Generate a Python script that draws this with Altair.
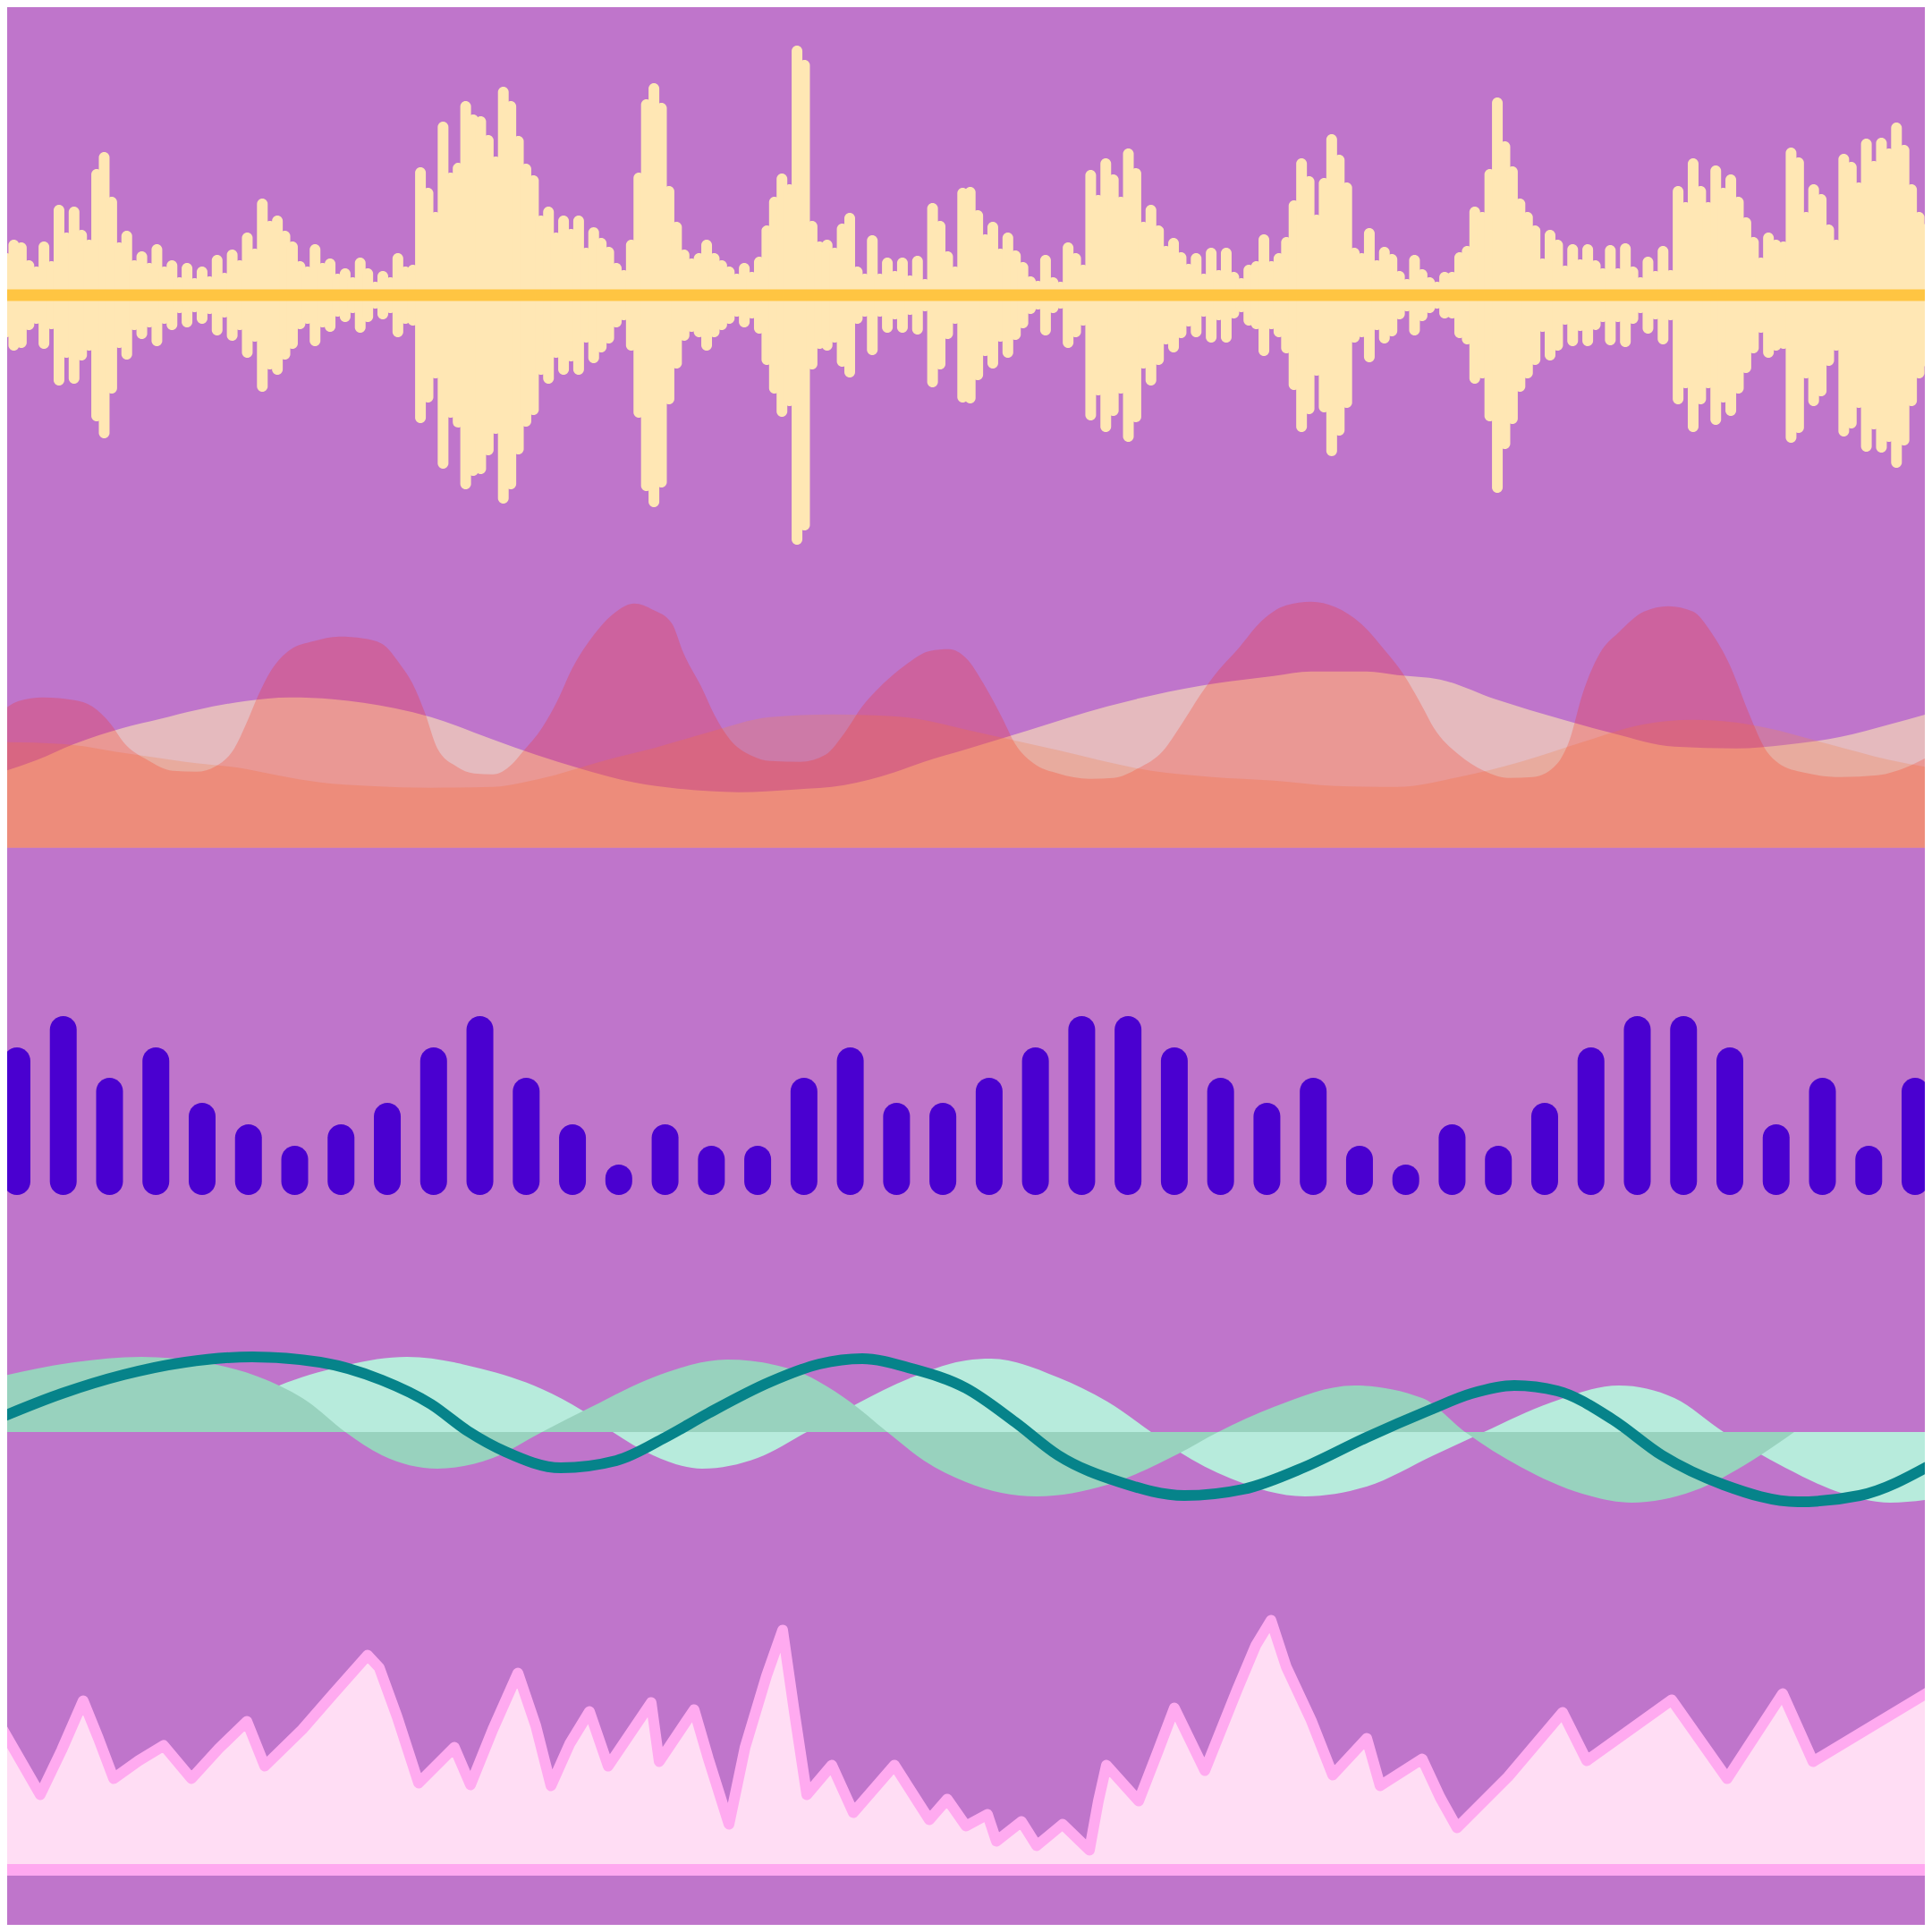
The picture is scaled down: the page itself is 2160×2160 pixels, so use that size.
import altair as alt
import pandas as pd

BG = "#BF75CB"

# ---------------- Panel 1: mirrored waveform (half amplitudes, px) ----------------
WAVE_AMP = [
    47, 62, 59, 39, 32, 60, 38, 101, 70, 99, 73, 62, 141, 160, 110, 59, 72, 39, 49,
    36, 57, 32, 39, 20, 36, 19, 32, 21, 45, 25, 51, 39, 70, 52, 108, 83, 89,
    72, 60, 38, 32, 57, 36, 41, 24, 30, 20, 42, 30, 15, 27, 20, 47, 32, 34, 143,
    120, 93, 194, 137, 148, 217, 202,
    200, 179, 155, 233, 217, 178, 147, 134, 89, 99, 70, 89, 74, 89, 53, 76, 64, 54, 36, 28,
    62, 137, 219, 237, 215, 122, 82, 51, 41, 47, 62, 47, 39, 32, 24, 36, 26, 43, 78, 110,
    136, 124, 279, 263, 83, 60, 62, 53, 80, 92, 32, 24, 67, 24, 42, 27, 42, 22, 44, 18,
    103, 83, 49, 32, 120,
    121, 95, 68, 82, 52, 70, 50, 37, 21, 16, 45, 20, 15, 59, 47, 34, 140, 112, 153, 135,
    110, 164, 142, 82, 101, 78, 55, 64, 48, 35, 47, 24, 53, 28, 53, 26, 19, 34, 38, 68,
    38, 47, 65, 106, 153, 133, 90, 131, 180, 157, 126, 53, 47, 75, 39, 54, 46, 27, 18, 45,
    29, 20, 15, 26,
    26, 48, 55, 99, 93, 141, 221, 172, 144, 108, 93, 78, 41, 73, 62, 33, 57, 40, 57, 39,
    30, 56, 30, 58, 32, 20, 43, 27, 55, 28, 122, 104, 153, 122, 104, 145, 120, 135, 110, 87,
    65, 42, 70, 62, 60, 165, 154, 93, 124, 113, 79, 62, 158, 149, 126, 175, 150, 176, 164, 193,
    168, 124, 93, 80,
]

# ---------------- Panel 2: ridge areas (x, height) ----------------
PEAK_X = [0, 21, 48, 83, 103, 124, 138, 165, 193, 220, 241, 262, 275, 289, 303, 324, 351, 379, 406, 427,
          448, 461, 475, 489, 510, 530, 551, 572, 585, 606, 623, 640, 661, 689, 709, 730, 751, 764, 785, 799,
          816, 840, 861, 895, 923, 944, 964, 985, 1012, 1040, 1061, 1080,
          1101, 1121, 1135, 1156, 1183, 1218, 1245, 1273, 1300, 1321, 1342, 1362, 1383, 1411, 1438, 1466, 1493,
          1521, 1548, 1569, 1590, 1603, 1631, 1659, 1686, 1714, 1741, 1755, 1769, 1789, 1810, 1838, 1865, 1893,
          1913, 1934, 1955, 1975, 1989, 2017, 2058, 2099, 2134, 2160]
PEAK_H = [151, 164, 168, 165, 158, 138, 118, 98, 86, 85, 91, 111, 138, 171, 198, 221, 231, 236, 234, 228,
          204, 184, 151, 111, 91, 83, 82, 93, 108, 134, 164, 201, 234, 264, 273, 266, 251, 218, 178, 148,
          121, 103, 97, 96, 104, 128, 158, 181, 204, 220, 222, 212,
          181, 144, 116, 94, 83, 77, 78, 89, 108, 138, 171, 198, 221, 254, 271, 275, 269,
          251, 221, 194, 158, 134, 104, 86, 78, 79, 94, 121, 171, 218, 241, 264, 270, 264,
          241, 204, 151, 108, 94, 84, 79, 81, 91, 104]

GLOW_X = [0, 41, 83, 138, 179, 220, 275, 324, 372, 441, 482, 551, 599, 647, 709, 758, 826, 888, 944, 999,
          1033, 1080, 1149, 1238, 1342, 1424, 1466, 1528, 1562, 1610, 1672, 1748, 1803, 1872, 1941, 1996,
          2058, 2113, 2160]
GLOW_H = [84, 98, 116, 134, 144, 154, 164, 168, 166, 156, 146, 121, 104, 89, 73, 66, 62, 65, 70, 84,
          96, 110, 131, 158, 181, 192, 197, 197, 193, 188, 166, 143, 128, 113, 111, 115,
          124, 138, 151]

FRONT_X = [0, 69, 138, 207, 275, 310, 358, 413, 482, 551, 585, 620, 647, 689, 730, 792, 861, 930, 978, 1026,
           1080, 1183, 1287, 1355, 1424, 1493, 1562, 1631, 1700, 1769, 1838, 1893, 1941, 1975, 2044, 2113, 2160]
FRONT_H = [118, 116, 106, 96, 88, 81, 73, 69, 67, 68, 73, 81, 89, 101, 111, 129, 146, 149, 148, 144,
           132, 109, 86, 79, 75, 69, 68, 79, 96, 118, 138, 143, 140, 134, 116, 98, 89]

# ---------------- Panel 3: rounded level bars ----------------
BAR_H = [165, 200, 131, 165, 103, 79, 55, 79, 103, 165, 200, 131, 79, 34, 79, 55, 55, 131, 165, 103,
         103, 131, 165, 200, 200, 165, 131, 103, 131, 55, 34, 79, 55, 103, 165, 200, 200, 165, 79, 131,
         55, 131]

# ---------------- Panel 4: waves ----------------
WAVE_A_X = [0, 83, 158, 227, 296, 344, 386, 427, 489, 551, 606, 661, 730, 813, 882, 950, 992, 1033, 1080,
            1159, 1238, 1318, 1362, 1424, 1514, 1590, 1638, 1700, 1769, 1824, 1893, 1968, 2006]
WAVE_A_V = [62, 78, 84, 78, 59, 34, 0, -26, -41, -29, 0, 28, 61, 81, 71, 34, 0, -32, -56,
            -72, -59, -24, 0, 28, 52, 38, 0, -39, -69, -79, -66, -26, 0]
WAVE_B_X = [224, 258, 303, 372, 455, 537, 606, 651, 685, 730, 785, 847, 902, 957, 1019, 1080, 1108, 1183,
            1238, 1287, 1318, 1376, 1459, 1528, 1603, 1659, 1734, 1810, 1872, 1927, 1996, 2058, 2113, 2160]
WAVE_B_V = [0, 24, 48, 71, 84, 71, 48, 24, 0, -26, -41, -29, 0, 31, 61, 80, 82, 61,
            34, 0, -22, -52, -72, -61, -26, 0, 33, 52, 38, 0, -40, -68, -79, -75]
TEAL_X = [0, 69, 138, 207, 282, 358, 427, 482, 523, 565, 627, 689, 744, 792, 861, 916, 964, 1019, 1080,
          1135, 1183, 1252, 1324, 1390, 1459, 1528, 1597, 1645, 1693, 1741, 1803, 1858, 1927, 2010, 2079, 2160]
TEAL_V = [16, 43, 64, 78, 84, 78, 58, 31, 1, -22, -40, -32, -6, 21, 56, 76, 82, 71, 49,
          11, -26, -56, -71, -64, -39, -6, 24, 43, 52, 46, 14, -26, -59, -78, -71, -36]

# ---------------- Panel 5: jagged line ----------------
LINE_X = [0, 45, 69, 93, 110, 127, 155, 183, 214, 245, 276, 296, 338, 372, 411, 424, 444, 468, 508, 526,
          551, 579, 599, 616, 637, 659, 680, 728, 737, 776, 792, 815, 833, 857, 875, 888, 902, 930, 954, 1000,
          1039, 1059, 1080, 1104, 1114, 1142, 1159, 1188, 1218, 1228, 1237, 1273, 1294, 1313, 1347, 1383, 1404,
          1421, 1438, 1466, 1490, 1528, 1543, 1590, 1610, 1629, 1686, 1747, 1774, 1869, 1931, 1993, 2027, 2160]
LINE_V = [162, 84, 134, 189, 147, 102, 122, 139, 102, 136, 166, 116, 157, 196, 240, 226, 171, 97, 137, 95,
          157, 220, 161, 94, 141, 177, 116, 187, 121, 179, 124, 51, 137, 217, 268, 177, 84, 117, 64, 117,
          56, 79, 49, 62, 32, 54, 27, 51, 22, 77, 117, 77, 131, 181, 111, 201, 251,
          279, 227, 167, 106, 147, 94, 124, 81, 47, 104, 176, 122, 190, 102, 197, 121, 201]

# The page keeps an 8px margin round the chart, so the chart covers the window
# region [8, 2152] on both axes; its scales are set so that each data position
# lands where it sits in the full 2160x2160 picture.
FULL = 2160
MARGIN = 8
LO, HI = MARGIN, FULL - MARGIN
W = HI - LO
px = alt.Scale(domain=[LO, HI], nice=False, zero=False)


def yscale(lo, hi):
    return alt.Scale(domain=[lo, hi], nice=False, zero=False)


# Panel 1 (window rows 8..660, centre line at 330)
wave_df = pd.DataFrame({"i": list(range(len(WAVE_AMP))), "amp": WAVE_AMP})
n = len(WAVE_AMP)
first, last = 2.0, 2159.0
step = (last - first) / (n - 1)
xw = alt.X("i:Q", scale=alt.Scale(domain=[(LO - first) / step, (HI - first) / step], nice=False, zero=False), axis=None)
y1 = yscale(-330, 330 - LO)
p1_bars = alt.Chart(wave_df).transform_calculate(neg="-datum.amp").mark_bar(
    width=12, cornerRadius=6, color="#FFE7B4", clip=True
).encode(x=xw, y=alt.Y("amp:Q", scale=y1, axis=None), y2="neg:Q")
p1_line = alt.Chart(pd.DataFrame({"z": [0]})).mark_rule(color="#FFC542", strokeWidth=13, clip=True).encode(
    y=alt.Y("z:Q", scale=y1, axis=None)
)
p1 = alt.layer(p1_bars, p1_line).properties(width=W, height=660 - LO)

# Panel 2 (rows 660..960, baseline at 947.7)
y2s = yscale(-12.3, 287.7)


def ridge(xs, hs, color, op):
    df = pd.DataFrame({"x": xs, "h": hs})
    return alt.Chart(df).mark_area(color=color, opacity=op, interpolate="monotone", clip=True).encode(
        x=alt.X("x:Q", scale=px, axis=None),
        y=alt.Y("h:Q", scale=y2s, axis=None),
        y2=alt.datum(0),
    )


p2 = alt.layer(
    ridge(GLOW_X, GLOW_H, "#FFE8B5", 0.6),
    ridge(FRONT_X, FRONT_H, "#EE8956", 0.3),
    ridge(PEAK_X, PEAK_H, "#FF2200", 0.22),
).properties(width=W, height=300)

# Panel 3 (rows 960..1400, bar bottoms at 1336)
bar_df = pd.DataFrame({"i": list(range(len(BAR_H))), "h": BAR_H})
b0, bstep = 14.0, 52.0
p3 = alt.Chart(bar_df).mark_bar(width=30, cornerRadius=15, color="#4A00D0", clip=True).encode(
    x=alt.X("i:Q", scale=alt.Scale(domain=[(LO - b0) / bstep, (HI - b0) / bstep], nice=False, zero=False), axis=None),
    y=alt.Y("h:Q", scale=yscale(-64, 376), axis=None),
    y2=alt.datum(0),
).properties(width=W, height=440)

# Panel 4 (rows 1400..1760, centre at 1601)
y4 = yscale(-159, 201)


def wave_area(xs, vs, color):
    df = pd.DataFrame({"x": xs, "v": vs})
    return alt.Chart(df).mark_area(color=color, interpolate="monotone", clip=True).encode(
        x=alt.X("x:Q", scale=px, axis=None),
        y=alt.Y("v:Q", scale=y4, axis=None),
        y2=alt.datum(0),
    )


teal_df = pd.DataFrame({"x": TEAL_X, "v": TEAL_V})
teal = alt.Chart(teal_df).mark_line(color="#06838A", strokeWidth=12, interpolate="monotone", clip=True).encode(
    x=alt.X("x:Q", scale=px, axis=None), y=alt.Y("v:Q", scale=y4, axis=None)
)
p4 = alt.layer(
    wave_area(WAVE_B_X, WAVE_B_V, "#B7EBDC"),
    wave_area(WAVE_A_X, WAVE_A_V, "#98D2BE"),
    teal,
).properties(width=W, height=360)

# Panel 5 (rows 1760..2152, baseline at 2090.5)
y5 = yscale(2090.5 - HI, 330.5)
line_df = pd.DataFrame({"x": LINE_X, "v": LINE_V})
base5 = alt.Chart(line_df).encode(x=alt.X("x:Q", scale=px, axis=None), y=alt.Y("v:Q", scale=y5, axis=None))
p5_fill = base5.mark_area(color="#FFDDF4", clip=True).encode(y2=alt.datum(0))
p5_line = base5.mark_line(color="#FFAAF0", strokeWidth=12, strokeJoin="round", strokeCap="round", clip=True)
p5_base = alt.Chart(pd.DataFrame({"z": [0]})).mark_rule(color="#FFA8F0", strokeWidth=13, clip=True).encode(
    y=alt.Y("z:Q", scale=y5, axis=None)
)
p5 = alt.layer(p5_fill, p5_line, p5_base).properties(width=W, height=HI - 1760)

chart = (
    alt.vconcat(p1, p2, p3, p4, p5, spacing=0)
    .properties(background=BG, padding=0)
    .configure_view(strokeWidth=0)
    .configure_concat(spacing=0)
)

chart.save("out.html", embed_options={"renderer": "svg", "actions": False})
